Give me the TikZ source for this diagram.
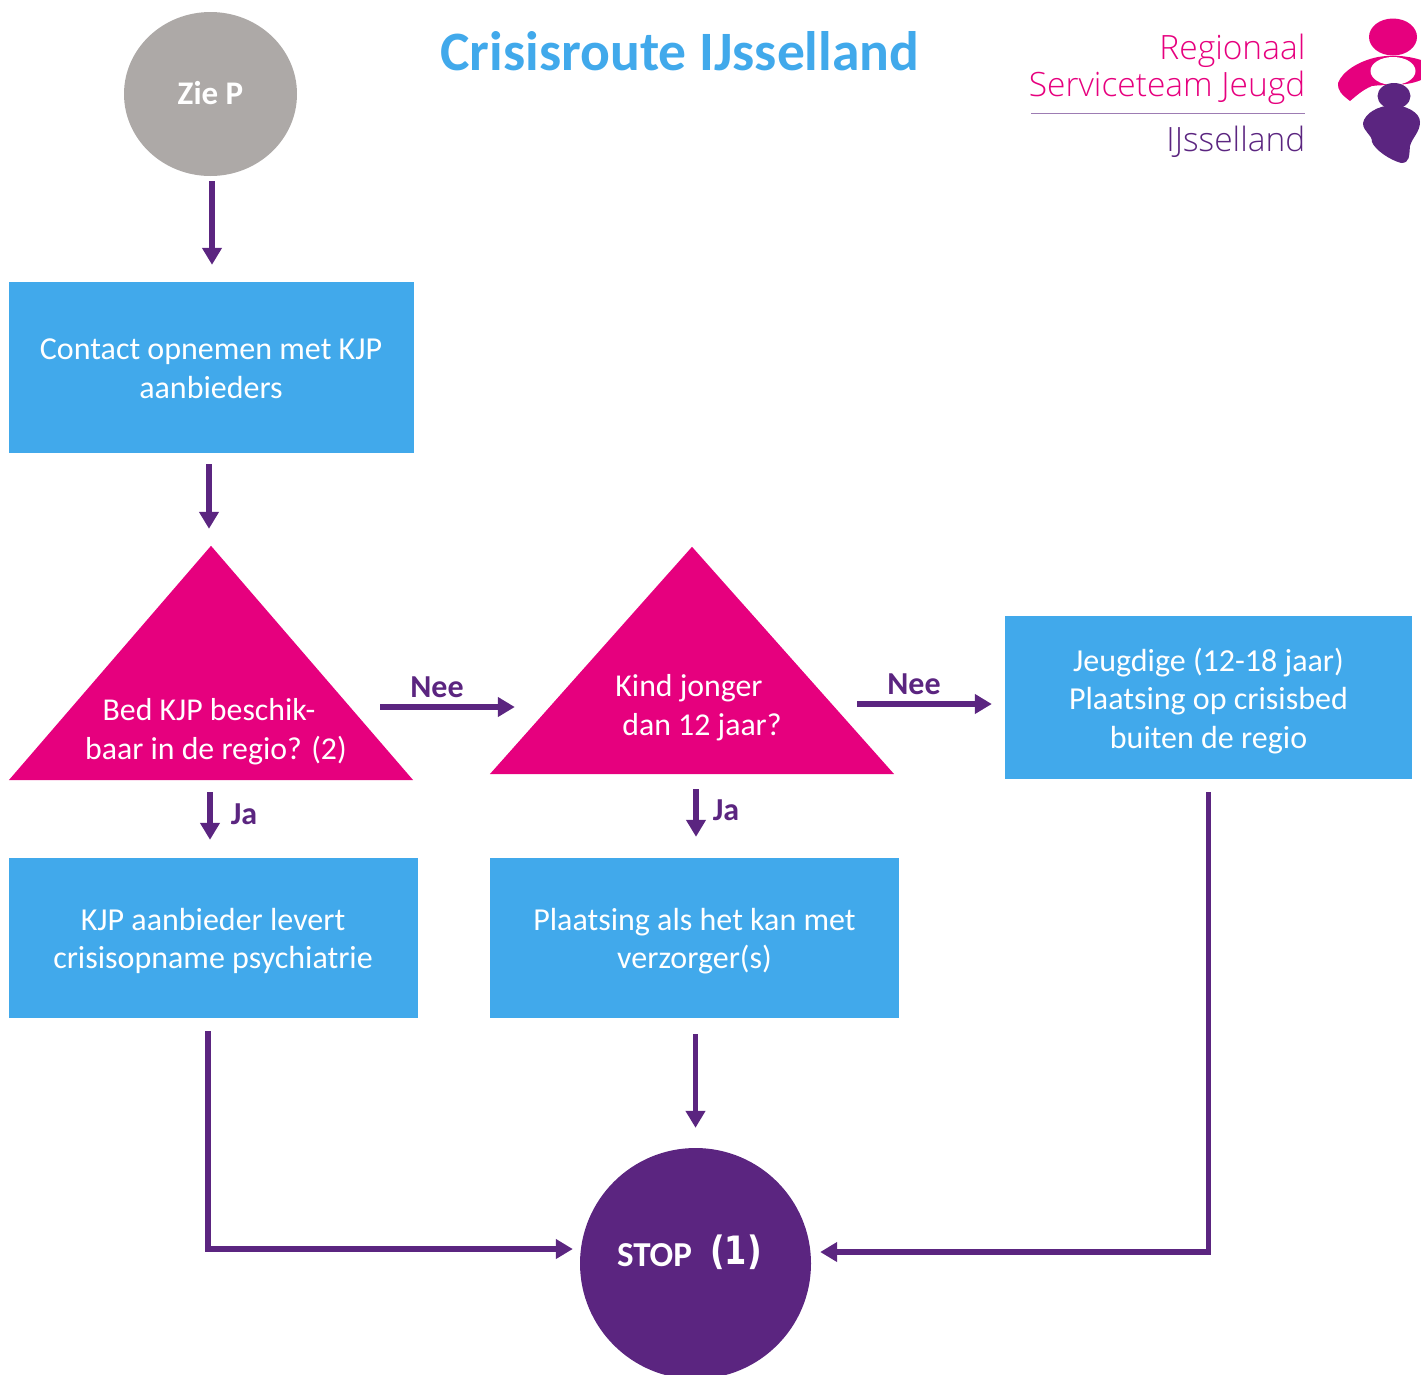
\documentclass[tikz,border=0pt]{standalone}
\usepackage{fontspec}
\setmainfont{Carlito}
\newfontfamily\logofont{Open Sans Light}
\newfontfamily\numfont{DejaVu Sans}
\usetikzlibrary{arrows.meta,shapes.geometric}
\definecolor{cblue}{HTML}{41A9EB}
\definecolor{cpink}{HTML}{E6007E}
\definecolor{cpurple}{HTML}{5B2580}
\definecolor{cgray}{HTML}{ADA9A7}
\tikzset{
  x=1pt,y=-1pt,
  bluebox/.style={fill=cblue,inner sep=0pt},
  boxtext/.style={text=white,inner sep=0pt,align=center,font=\fontsize{32}{38.5}\selectfont},
  trianglebox/.style={inner sep=0pt,minimum width=404pt},
  triangletext/.style={text=white,inner sep=0pt,align=center,font=\fontsize{31.8}{39}\selectfont},
  flow/.style={draw=cpurple,line width=5.5pt,-{Triangle[length=17pt,width=19pt]}},
  answer/.style={text=cpurple,inner sep=0pt,font=\bfseries\fontsize{32}{38}\selectfont},
  logotext/.style={anchor=base east,inner sep=0pt,font=\logofont\fontsize{33.5}{38}\selectfont},
}
\begin{document}
\begin{tikzpicture}
\useasboundingbox (0,0) rectangle (1421,1374);
\clip (0,0) rectangle (1421,1374);
% title
\node[text=cblue,inner sep=0pt,font=\bfseries\fontsize{55.6}{60}\selectfont] (title) at (680,51) {Crisisroute IJsselland};
% logo
\fill[cpink] (1393,37) ellipse [x radius=24,y radius=18.5];
\fill[cpink] (1350,101) .. controls (1342,95) and (1337,90) .. (1338,83)
  .. controls (1342,72) and (1358,61) .. (1378,57)
  .. controls (1390,55) and (1405,55) .. (1421,60)
  -- (1421,80) .. controls (1405,87) and (1385,84) .. (1372,86)
  .. controls (1362,90) and (1355,97) .. (1350,101) -- cycle;
\fill[white] (1393,71) ellipse [x radius=22.5,y radius=14];
\fill[cpurple] (1394,96) ellipse [x radius=16.5,y radius=13];
\fill[cpurple] (1363,123) .. controls (1365,113) and (1378,106) .. (1392,105)
  .. controls (1405,105) and (1420,112) .. (1420,122)
  .. controls (1420,132) and (1412,138) .. (1410,146)
  .. controls (1409,156) and (1410,163) .. (1401,163)
  .. controls (1390,160) and (1375,150) .. (1372,142)
  .. controls (1372,134) and (1363,132) .. (1363,123) -- cycle;
\node[logotext,text=cpink] (logoa) at (1305.5,59) {Regionaal};
\node[logotext,text=cpink] (logob) at (1305.5,96) {Serviceteam Jeugd};
\node[logotext,text=cpurple] (logoc) at (1305.5,151) {IJsselland};
\draw[cpurple!60,line width=0.8pt] (1031,113) -- (1305,113);
% start and stop
\node[fill=cgray,ellipse,inner sep=0pt,minimum width=173pt,minimum height=164pt] (zie) at (210.5,94) {};
\node[text=white,inner sep=0pt,font=\bfseries\fontsize{33}{38}\selectfont] (zielabel) at (210.5,93) {Zie P};
\node[fill=cpurple,circle,inner sep=0pt,minimum size=231pt] (stop) at (695.5,1263.5) {};
\node[text=white,inner sep=0pt,font=\bfseries\fontsize{35}{38}\selectfont] (stoplabel) at (654.5,1255) {STOP};
\node[text=white,inner sep=0pt,font=\numfont\bfseries\fontsize{32}{40}\selectfont] (stopnum) at (736,1252) {\scalebox{1}[1.22]{(1)}};
% boxes
\node[bluebox,minimum width=405pt,minimum height=171pt] (contact) at (211.5,367.5) {};
\node[boxtext] (contactlabel) at (211,368.5) {Contact opnemen met KJP\\aanbieders};
\node[bluebox,minimum width=407pt,minimum height=163pt] (jeugd) at (1208.5,697.5) {};
\node[boxtext] (jeugdlabel) at (1208.5,701) {Jeugdige (12-18 jaar)\\Plaatsing op crisisbed\\buiten de regio};
\node[bluebox,minimum width=409pt,minimum height=160pt] (kjp) at (213.5,938) {};
\node[boxtext] (kjplabel) at (213,941) {KJP aanbieder levert\\crisisopname psychiatrie};
\node[bluebox,minimum width=409pt,minimum height=160pt] (plaats) at (694.5,938) {};
\node[boxtext] (plaatslabel) at (694.5,941) {Plaatsing als het kan met\\verzorger(s)};
% triangles
\node[trianglebox,minimum height=234pt] (bed) at (211,663) {};
\fill[cpink] (bed.north) -- (bed.south west) -- (bed.south east) -- cycle;
\node[triangletext] (bedlabel) at (209,732) {Bed KJP beschik-\\\hspace*{14pt}baar in de regio? (2)};
\node[trianglebox,minimum height=227pt] (kind) at (692,660.5) {};
\fill[cpink] (kind.north) -- (kind.south west) -- (kind.south east) -- cycle;
\node[triangletext] (kindlabel) at (689,708) {Kind jonger\\\hspace*{26pt}dan 12 jaar?};
% labels
\node[answer] (nee1) at (437,687) {Nee};
\node[answer] (nee2) at (914,684) {Nee};
\node[answer] (ja1) at (244,814) {Ja};
\node[answer] (ja2) at (726,810) {Ja};
% connectors
\draw[flow,shorten <=5pt,shorten >=17pt] ([xshift=1.5pt]zie.south) -- ([xshift=0.5pt]contact.north);
\draw[flow,shorten <=11pt,shorten >=17pt] ([xshift=-2.5pt]contact.south) -- ([xshift=-2pt]bed.north);
\draw[flow,shorten <=-33pt,shorten >=-25pt] ([yshift=-44pt]bed.east) -- ([yshift=-46.5pt]kind.west);
\draw[flow,shorten <=-37pt,shorten >=13pt] ([yshift=-43.5pt]kind.east) -- ([yshift=-6.5pt]jeugd.west);
\draw[flow,shorten <=12pt,shorten >=18pt] ([xshift=-1pt]bed.south) -- ([xshift=-3.5pt]kjp.north);
\draw[flow,shorten <=15pt,shorten >=21pt] ([xshift=4pt]kind.south) -- ([xshift=1.5pt]plaats.north);
\draw[flow,shorten <=16pt,shorten >=20pt] ([xshift=1pt]plaats.south) -- (stop.north);
\draw[flow,shorten <=13pt,shorten >=7pt] ([xshift=-5.5pt]kjp.south) |- ([yshift=14.5pt]stop.west);
\draw[flow,shorten <=13pt,shorten >=9pt] (jeugd.south) |- ([yshift=11.5pt]stop.east);
\end{tikzpicture}
\end{document}
